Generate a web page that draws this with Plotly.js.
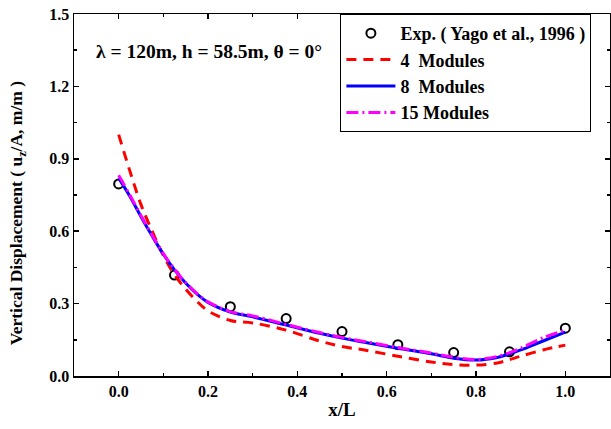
<!DOCTYPE html>
<html>
<head>
<meta charset="utf-8">
<script src="https://cdn.plot.ly/plotly-3.0.1.min.js"></script>
<style>html,body{margin:0;padding:0;background:#fff;}#chart{width:611px;height:429px;}</style>
</head>
<body>
<div id="chart"></div>
<script>
// Experimental data (Yago et al., 1996)
const expX = [0, 0.125, 0.25, 0.375, 0.5, 0.625, 0.75, 0.875, 1.0];
const expY = [0.796, 0.418, 0.287, 0.238, 0.184, 0.130, 0.097, 0.100, 0.198];

// Model x positions
const modX = [0, 0.025, 0.05, 0.075, 0.1, 0.125, 0.15, 0.175, 0.2, 0.25, 0.3, 0.375, 0.45, 0.5, 0.55, 0.625, 0.7, 0.75, 0.8, 0.85, 0.875, 0.9, 0.95, 1.0];
const mod4Y  = [1.0, 0.85, 0.71, 0.60, 0.50, 0.42, 0.36, 0.31, 0.27, 0.23, 0.22, 0.19, 0.145, 0.122, 0.108, 0.082, 0.058, 0.047, 0.045, 0.055, 0.068, 0.082, 0.108, 0.128];
const mod8Y  = [0.82, 0.745, 0.66, 0.58, 0.505, 0.44, 0.385, 0.34, 0.305, 0.265, 0.245, 0.211, 0.177, 0.157, 0.14, 0.115, 0.092, 0.074, 0.066, 0.078, 0.092, 0.108, 0.145, 0.182];
const mod15Y = [0.832, 0.75, 0.665, 0.583, 0.507, 0.442, 0.387, 0.342, 0.307, 0.267, 0.249, 0.214, 0.18, 0.16, 0.143, 0.118, 0.095, 0.078, 0.068, 0.082, 0.097, 0.115, 0.158, 0.19];

const seriesNames = ['Exp. ( Yago et al., 1996 )', '4  Modules', '8  Modules', '15 Modules'];
const annText = 'λ = 120m, h = 58.5m, θ = 0°';
const yTitle = 'Vertical Displacement ( u<sub>z</sub>/A, m/m )';
const xTitle = 'x/L';

const FONT = 'Liberation Serif, Times New Roman, serif';

const traces = [
  {x: expX, y: expY, name: seriesNames[0], mode: 'markers', type: 'scatter',
   marker: {symbol: 'circle-open', size: 9, color: '#000', line: {width: 2, color: '#000'}}},
  {x: modX, y: mod4Y, name: seriesNames[1], mode: 'lines', type: 'scatter',
   line: {color: '#ff0000', width: 3, dash: '10px,7px', shape: 'spline'}},
  {x: modX, y: mod8Y, name: seriesNames[2], mode: 'lines', type: 'scatter',
   line: {color: '#0000ff', width: 3, shape: 'spline'}},
  {x: modX, y: mod15Y, name: seriesNames[3], mode: 'lines', type: 'scatter',
   line: {color: '#ff00ff', width: 3, dash: '12px,4px,2px,4px', shape: 'spline'}}
];

const axisCommon = {
  showline: true, linecolor: '#000', linewidth: 1.5, mirror: 'ticks',
  ticks: 'inside', ticklen: 5, tickwidth: 1.5, tickcolor: '#000',
  showgrid: false, zeroline: false,
  tickfont: {family: FONT, size: 16, color: '#000', weight: 'bold'},
  tickformat: '.1f'
};

const layout = {
  width: 611, height: 429,
  margin: {l: 74, r: 1, t: 14, b: 53},
  paper_bgcolor: '#fff', plot_bgcolor: '#fff',
  font: {family: FONT, color: '#000'},
  xaxis: Object.assign({}, axisCommon, {
    range: [-0.1, 1.1], tick0: 0, dtick: 0.2,
    minor: {ticks: 'inside', ticklen: 3, tickwidth: 1.5, tickcolor: '#000', dtick: 0.1, tick0: 0},
    title: {text: xTitle, font: {family: FONT, size: 19, color: '#000', weight: 'bold'}, standoff: 4}
  }),
  yaxis: Object.assign({}, axisCommon, {
    range: [0, 1.5], tick0: 0, dtick: 0.3,
    minor: {ticks: 'inside', ticklen: 3, tickwidth: 1.5, tickcolor: '#000', dtick: 0.15, tick0: 0}
  }),
  legend: {
    x: 0.497, y: 1, xanchor: 'left', yanchor: 'top',
    bgcolor: '#fff', bordercolor: '#000', borderwidth: 1,
    font: {family: FONT, size: 18, color: '#000', weight: 'bold'},
    tracegroupgap: 0, itemwidth: 49
  },
  annotations: [{
    x: -0.055, y: 1.343, xref: 'x', yref: 'y', xanchor: 'left', yanchor: 'middle',
    text: annText, showarrow: false,
    font: {family: FONT, size: 19.5, color: '#000', weight: 'bold'}
  }, {
    x: -0.106, y: 0.45, xref: 'paper', yref: 'paper', xanchor: 'center', yanchor: 'middle',
    text: yTitle, textangle: -90, showarrow: false,
    font: {family: FONT, size: 17.5, color: '#000', weight: 'bold'}
  }],
  showlegend: true
};

Plotly.newPlot('chart', traces, layout, {displayModeBar: false, staticPlot: true});
</script>
</body>
</html>
